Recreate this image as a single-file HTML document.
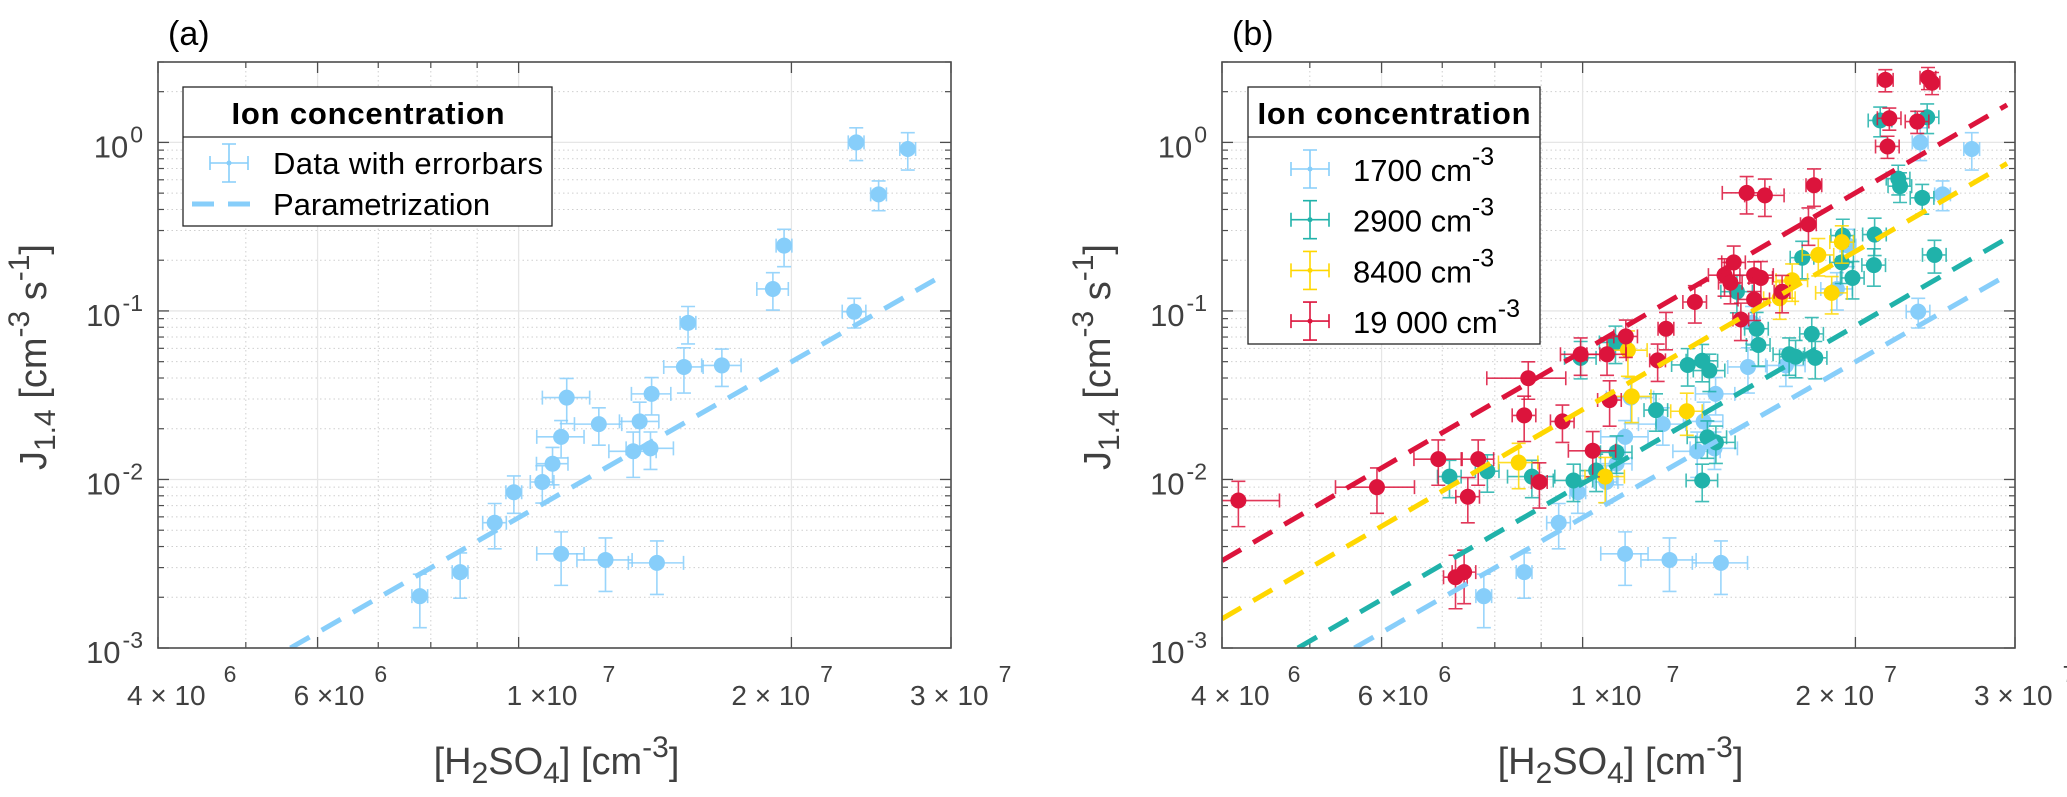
<!DOCTYPE html>
<html><head><meta charset="utf-8"><style>
html,body{margin:0;padding:0;background:#fff;}
svg{display:block;font-family:"Liberation Sans",sans-serif;}
</style></head><body>
<svg id="fig" width="2067" height="797" viewBox="0 0 2067 797" xmlns="http://www.w3.org/2000/svg">
<rect x="0" y="0" width="2067" height="797" fill="#fff"/>
</svg>
<script>
// ---------- data ----------
const xTicks = [4e6, 6e6, 1e7, 2e7, 3e7];
const xTickMant = ['4 × 10', '6 ×10', '1 ×10', '2 × 10', '3 × 10'];
const xTickExp = ['6', '6', '7', '7', '7'];
const yTicks = [1e-3, 1e-2, 1e-1, 1e0];
const yTickExp = ['-3', '-2', '-1', '0'];

// 1700 cm-3 series (panel a and b)
const blueX = [7.78e6,8.62e6,9.41e6,9.88e6,1.062e7,1.09e7,1.114e7,1.13e7,1.226e7,1.338e7,1.36e7,1.398e7,1.402e7,1.522e7,1.538e7,1.676e7,1.908e7,1.963e7,2.346e7,2.358e7,2.496e7,2.688e7,1.114e7,1.247e7,1.421e7];
const blueY = [2.03e-3,2.82e-3,5.54e-3,8.4e-3,9.66e-3,1.24e-2,1.79e-2,3.06e-2,2.13e-2,1.47e-2,2.21e-2,1.53e-2,3.22e-2,4.65e-2,8.5e-2,4.75e-2,0.135,0.244,0.099,1.0,0.492,0.914,3.62e-3,3.33e-3,3.2e-3];
const blueXErr = [0.02,0.02,0.03,0.02,0.03,0.04,0.06,0.06,0.06,0.06,0.05,0.06,0.05,0.05,0.02,0.05,0.04,0.02,0.03,0.02,0.02,0.02,0.06,0.07,0.07];
const blueYErr = [0.35,0.3,0.3,0.25,0.25,0.25,0.25,0.3,0.25,0.3,0.3,0.25,0.25,0.3,0.25,0.25,0.25,0.25,0.2,0.22,0.2,0.25,0.35,0.35,0.35];

const tealX = [7.13e6,7.85e6,8.79e6,9.77e6,9.95e6,1.035e7,1.087e7,1.09e7,1.205e7,1.306e7,1.355e7,1.355e7,1.373e7,1.38e7,1.403e7,1.48e7,1.556e7,1.563e7,1.69e7,1.718e7,1.747e7,1.79e7,1.806e7,1.932e7,1.937e7,1.985e7,2.096e7,2.10e7,2.13e7,2.23e7,2.24e7,2.37e7,2.40e7,2.445e7];
const tealY = [1.04e-2,1.12e-2,1.04e-2,9.86e-3,5.27e-2,1.13e-2,6.5e-2,1.45e-2,2.58e-2,4.78e-2,5.06e-2,9.86e-3,1.78e-2,4.43e-2,1.66e-2,0.130,7.84e-2,6.28e-2,5.53e-2,5.35e-2,0.207,7.31e-2,5.27e-2,0.194,0.280,0.157,0.187,0.284,1.35,0.61,0.55,0.469,1.41,0.215];
const tealXErr = [0.03,0.03,0.06,0.05,0.04,0.04,0.04,0.04,0.03,0.04,0.04,0.04,0.05,0.04,0.05,0.04,0.03,0.03,0.04,0.04,0.03,0.03,0.03,0.03,0.03,0.03,0.03,0.03,0.03,0.03,0.03,0.03,0.03,0.03];
const tealYErr = [0.25,0.25,0.25,0.25,0.25,0.25,0.25,0.25,0.25,0.25,0.25,0.25,0.25,0.25,0.25,0.25,0.25,0.25,0.25,0.25,0.25,0.25,0.25,0.25,0.25,0.25,0.25,0.25,0.2,0.2,0.2,0.2,0.2,0.22];

const yellowX = [8.5e6,1.059e7,1.122e7,1.133e7,1.303e7,1.65e7,1.703e7,1.82e7,1.883e7,1.932e7];
const yellowY = [1.26e-2,1.04e-2,5.85e-2,3.11e-2,2.54e-2,0.119,0.152,0.215,0.128,0.256];
const yellowXErr = [0.05,0.05,0.05,0.05,0.04,0.04,0.04,0.04,0.04,0.03];
const yellowYErr = [0.3,0.3,0.3,0.3,0.28,0.25,0.25,0.25,0.25,0.25];

const redX = [4.17e6,5.93e6,6.93e6,7.24e6,7.40e6,7.47e6,7.67e6,8.62e6,8.71e6,8.96e6,9.5e6,9.95e6,1.026e7,1.064e7,1.071e7,1.116e7,1.21e7,1.236e7,1.33e7,1.434e7,1.456e7,1.468e7,1.495e7,1.546e7,1.546e7,1.573e7,1.66e7,1.517e7,1.589e7,1.775e7,1.80e7,2.158e7,2.18e7,2.17e7,2.34e7,2.405e7,2.43e7];
const redY = [7.5e-3,9.0e-3,1.32e-2,2.63e-3,2.82e-3,7.9e-3,1.32e-2,2.40e-2,3.99e-2,9.66e-3,2.21e-2,5.53e-2,1.48e-2,5.53e-2,2.96e-2,7.06e-2,5.09e-2,7.84e-2,0.113,0.163,0.147,0.194,0.089,0.163,0.117,0.157,0.130,0.502,0.485,0.327,0.557,2.35,1.39,0.946,1.33,2.42,2.26];
const redXErr = [0.11,0.1,0.06,0.03,0.03,0.03,0.04,0.03,0.1,0.02,0.03,0.05,0.06,0.05,0.03,0.03,0.02,0.02,0.03,0.04,0.03,0.03,0.02,0.05,0.04,0.03,0.02,0.06,0.05,0.02,0.02,0.02,0.03,0.03,0.03,0.02,0.02];
const redYErr = [0.3,0.3,0.3,0.35,0.35,0.3,0.3,0.3,0.25,0.3,0.25,0.25,0.3,0.25,0.3,0.25,0.25,0.25,0.25,0.25,0.25,0.25,0.25,0.2,0.25,0.25,0.25,0.25,0.25,0.25,0.25,0.15,0.15,0.15,0.15,0.15,0.15];

// parametrization endpoints [x1,x2], [y1,y2]
const paramBlueX = [5.6e6, 2.94e7], paramBlueY = [1e-3, 0.163];
const paramTealX = [4.85e6, 2.99e7], paramTealY = [1e-3, 0.284];
const paramYellowX = [4.0e6, 2.94e7], paramYellowY = [1.49e-3, 0.75];
const paramRedX = [4.0e6, 2.94e7], paramRedY = [3.3e-3, 1.67];

// ---------- layout ----------
const NS = 'http://www.w3.org/2000/svg';
const svg = document.getElementById('fig');
const xMin = 4e6, xMax = 3e7, yMin = 1e-3, yMax = 3;
const panels = [{L:158, R:951, T:62, B:648, id:'a'}, {L:1222, R:2015, T:62, B:648, id:'b'}];
const xLabelDx = [-31, -24, -12, -60, -41];
const xSupGap = [18, 10, 25, 10, 10];
const C = {blue:'#87CEFA', teal:'#20B2AA', yellow:'#FFD700', red:'#DC143C'};

function sx(p, x){ return p.L + (p.R - p.L) * Math.log10(x / xMin) / Math.log10(xMax / xMin); }
function sy(p, y){ return p.B - (p.B - p.T) * Math.log10(y / yMin) / Math.log10(yMax / yMin); }
function mk(tag, attrs, parent){
  const e = document.createElementNS(NS, tag);
  for (const k in attrs) e.setAttribute(k, attrs[k]);
  (parent || svg).appendChild(e);
  return e;
}

panels.forEach(function(p){
  const g = mk('g', {});
  
  
  const defs = mk('defs', {}, g);
  const cp = mk('clipPath', {id:'clip-' + p.id}, defs);
  mk('rect', {x:p.L, y:p.T, width:p.R - p.L, height:p.B - p.T}, cp);

  // grid
  const grid = mk('g', {}, g);
  
  
  const minorX = [5e6, 7e6, 8e6, 9e6];
  minorX.forEach(function(v){
    const X = sx(p, v);
    mk('line', {x1:X, x2:X, y1:p.T, y2:p.B, stroke:'#cfcfcf', 'stroke-width':1, 'stroke-dasharray':'1.5 3'}, grid);
    mk('line', {x1:X, x2:X, y1:p.B, y2:p.B - 6, stroke:'#4d4d4d', 'stroke-width':1.2}, grid);
    mk('line', {x1:X, x2:X, y1:p.T, y2:p.T + 6, stroke:'#4d4d4d', 'stroke-width':1.2}, grid);
  });
  for (let d = -3; d <= 0; d++){
    for (let m = 2; m <= 9; m++){
      const v = m * Math.pow(10, d);
      if (v > yMax) break;
      const Y = sy(p, v);
      mk('line', {x1:p.L, x2:p.R, y1:Y, y2:Y, stroke:'#cfcfcf', 'stroke-width':1, 'stroke-dasharray':'1.5 3'}, grid);
      mk('line', {x1:p.L, x2:p.L + 6, y1:Y, y2:Y, stroke:'#4d4d4d', 'stroke-width':1.2}, grid);
      mk('line', {x1:p.R, x2:p.R - 6, y1:Y, y2:Y, stroke:'#4d4d4d', 'stroke-width':1.2}, grid);
    }
  }
  xTicks.forEach(function(v, i){
    const X = sx(p, v);
    mk('line', {x1:X, x2:X, y1:p.T, y2:p.B, stroke:'#e6e6e6', 'stroke-width':1.3}, grid);
    mk('line', {x1:X, x2:X, y1:p.B, y2:p.B - 11, stroke:'#4d4d4d', 'stroke-width':1.3}, grid);
    mk('line', {x1:X, x2:X, y1:p.T, y2:p.T + 11, stroke:'#4d4d4d', 'stroke-width':1.3}, grid);
    const t = mk('text', {x:X + xLabelDx[i], y:705, 'font-size':28, fill:'#404040'}, g);
    
    
    t.textContent = xTickMant[i];
    const s = mk('tspan', {dx:xSupGap[i], dy:-23, 'font-size':23}, t);
    s.textContent = xTickExp[i];
  });
  yTicks.forEach(function(v, i){
    const Y = sy(p, v);
    mk('line', {x1:p.L, x2:p.R, y1:Y, y2:Y, stroke:'#e6e6e6', 'stroke-width':1.3}, grid);
    mk('line', {x1:p.L, x2:p.L + 11, y1:Y, y2:Y, stroke:'#4d4d4d', 'stroke-width':1.3}, grid);
    mk('line', {x1:p.R, x2:p.R - 11, y1:Y, y2:Y, stroke:'#4d4d4d', 'stroke-width':1.3}, grid);
    const t = mk('text', {x:p.L - 15, y:Y + 15, 'font-size':31, fill:'#404040', 'text-anchor':'end'}, g);
    
    
    t.textContent = '10';
    const s = mk('tspan', {dx:2, dy:-15, 'font-size':23}, t);
    s.textContent = yTickExp[i];
  });

  const plot = mk('g', {'clip-path':'url(#clip-' + p.id + ')'}, g);
  
  

  function series(xs, ys, xe, ye, col, name){
    const sg = mk('g', {}, plot);
    
    
    for (let i = 0; i < xs.length; i++){
      const X = sx(p, xs[i]), Y = sy(p, ys[i]);
      const x1 = sx(p, xs[i] * (1 - xe[i])), x2 = sx(p, xs[i] * (1 + xe[i]));
      const y1 = sy(p, ys[i] * (1 + ye[i])), y2 = sy(p, ys[i] * (1 - ye[i]));
      const eg = mk('g', {stroke:col, 'stroke-width':1.6, 'stroke-opacity':0.85, fill:'none'}, sg);
      
      
      mk('path', {d:'M'+x1+' '+Y+'H'+x2+'M'+x1+' '+(Y-7)+'V'+(Y+7)+'M'+x2+' '+(Y-7)+'V'+(Y+7)+
        'M'+X+' '+y1+'V'+y2+'M'+(X-7)+' '+y1+'H'+(X+7)+'M'+(X-7)+' '+y2+'H'+(X+7)}, eg);
      const c = mk('circle', {cx:X, cy:Y, r:8, fill:col}, sg);
      
      
    }
  }
  function pline(xs, ys, col, name){
    const l = mk('line', {x1:sx(p, xs[0]), y1:sy(p, ys[0]), x2:sx(p, xs[1]), y2:sy(p, ys[1]), stroke:col, 'stroke-width':5, 'stroke-dasharray':'22 14'}, plot);
    
    
  }

  series(blueX, blueY, blueXErr, blueYErr, C.blue, 'series-1700');
  if (p.id === 'b'){
    series(tealX, tealY, tealXErr, tealYErr, C.teal, 'series-2900');
    series(yellowX, yellowY, yellowXErr, yellowYErr, C.yellow, 'series-8400');
    series(redX, redY, redXErr, redYErr, C.red, 'series-19000');
    pline(paramBlueX, paramBlueY, C.blue, 'param-line-1700');
    pline(paramTealX, paramTealY, C.teal, 'param-line-2900');
    pline(paramYellowX, paramYellowY, C.yellow, 'param-line-8400');
    pline(paramRedX, paramRedY, C.red, 'param-line-19000');
  } else {
    pline(paramBlueX, paramBlueY, C.blue, 'param-line');
  }

  // frame
  const fr = mk('rect', {x:p.L, y:p.T, width:p.R - p.L, height:p.B - p.T, fill:'none', stroke:'#4d4d4d', 'stroke-width':1.6}, g);
  
  

  // panel label
  const pl = mk('text', {x:p.L + 10, y:45, 'font-size':34, fill:'#000'}, g);
  
  
  pl.textContent = '(' + p.id + ')';

  // x title
  const xt = mk('text', {x:(p.L + p.R) / 2 + 2, y:774, 'font-size':38, fill:'#404040', 'text-anchor':'middle'}, g);
  
  
  xt.innerHTML = '[H<tspan font-size="30" dy="9">2</tspan><tspan dy="-9">SO</tspan><tspan font-size="30" dy="9">4</tspan><tspan dy="-9">] [cm</tspan><tspan font-size="30" dy="-17">-3</tspan><tspan dy="17">]</tspan>';

  // y title
  const yt = mk('text', {x:0, y:0, transform:'translate(' + (p.L - 112) + ',357) rotate(-90)', 'font-size':38, fill:'#404040', 'text-anchor':'middle'}, g);
  
  
  yt.innerHTML = 'J<tspan font-size="30" dy="9">1.4</tspan><tspan dy="-9"> [cm</tspan><tspan font-size="30" dy="-17">-3</tspan><tspan dy="17"> s</tspan><tspan font-size="30" dy="-17">-1</tspan><tspan dy="17">]</tspan>';
});

// ---------- legends ----------
function errIcon(g, cx, cy, col){
  mk('path', {d:'M'+(cx-19)+' '+cy+'H'+(cx+19)+'M'+(cx-19)+' '+(cy-7)+'V'+(cy+7)+'M'+(cx+19)+' '+(cy-7)+'V'+(cy+7)+
    'M'+cx+' '+(cy-19)+'V'+(cy+19)+'M'+(cx-7)+' '+(cy-19)+'H'+(cx+7)+'M'+(cx-7)+' '+(cy+19)+'H'+(cx+7),
    stroke:col, 'stroke-width':1.6, fill:'none'}, g);
  mk('circle', {cx:cx, cy:cy, r:2.5, fill:col}, g);
}
// legend a
(function(){
  const g = mk('g', {});
  
  
  mk('rect', {x:183, y:87, width:369, height:139, fill:'#fff', stroke:'#262626', 'stroke-width':1.3}, g);
  mk('line', {x1:183, x2:552, y1:137, y2:137, stroke:'#262626', 'stroke-width':1.3}, g);
  const t = mk('text', {x:368, y:124, 'font-size':31, 'font-weight':'bold', 'text-anchor':'middle', textLength:273}, g);
  
  
  t.textContent = 'Ion concentration';
  const e1 = mk('g', {}, g);
  
  
  errIcon(e1, 229, 163, C.blue);
  const t1 = mk('text', {x:273, y:174, 'font-size':31, textLength:270}, e1);
  t1.textContent = 'Data with errorbars';
  const e2 = mk('g', {}, g);
  
  
  mk('line', {x1:192, x2:250, y1:204, y2:204, stroke:C.blue, 'stroke-width':5, 'stroke-dasharray':'22 14'}, e2);
  const t2 = mk('text', {x:273, y:215, 'font-size':31}, e2);
  t2.textContent = 'Parametrization';
})();
// legend b
const legendLabels = ['1700 cm', '2900 cm', '8400 cm', '19 000 cm'];
const legendColors = [C.blue, C.teal, C.yellow, C.red];
(function(){
  const g = mk('g', {});
  
  
  mk('rect', {x:1248, y:87, width:292, height:257, fill:'#fff', stroke:'#262626', 'stroke-width':1.3}, g);
  mk('line', {x1:1248, x2:1540, y1:137, y2:137, stroke:'#262626', 'stroke-width':1.3}, g);
  const t = mk('text', {x:1394, y:124, 'font-size':31, 'font-weight':'bold', 'text-anchor':'middle', textLength:273}, g);
  
  
  t.textContent = 'Ion concentration';
  legendLabels.forEach(function(lab, i){
    const cy = 169 + i * 50.7;
    const e = mk('g', {}, g);
    
    
    errIcon(e, 1310, cy, legendColors[i]);
    const tx = mk('text', {x:1353, y:cy + 12, 'font-size':31}, e);
    tx.textContent = lab;
    const s = mk('tspan', {dy:-16, 'font-size':25}, tx);
    s.textContent = '-3';
  });
})();
</script>
</body></html>
